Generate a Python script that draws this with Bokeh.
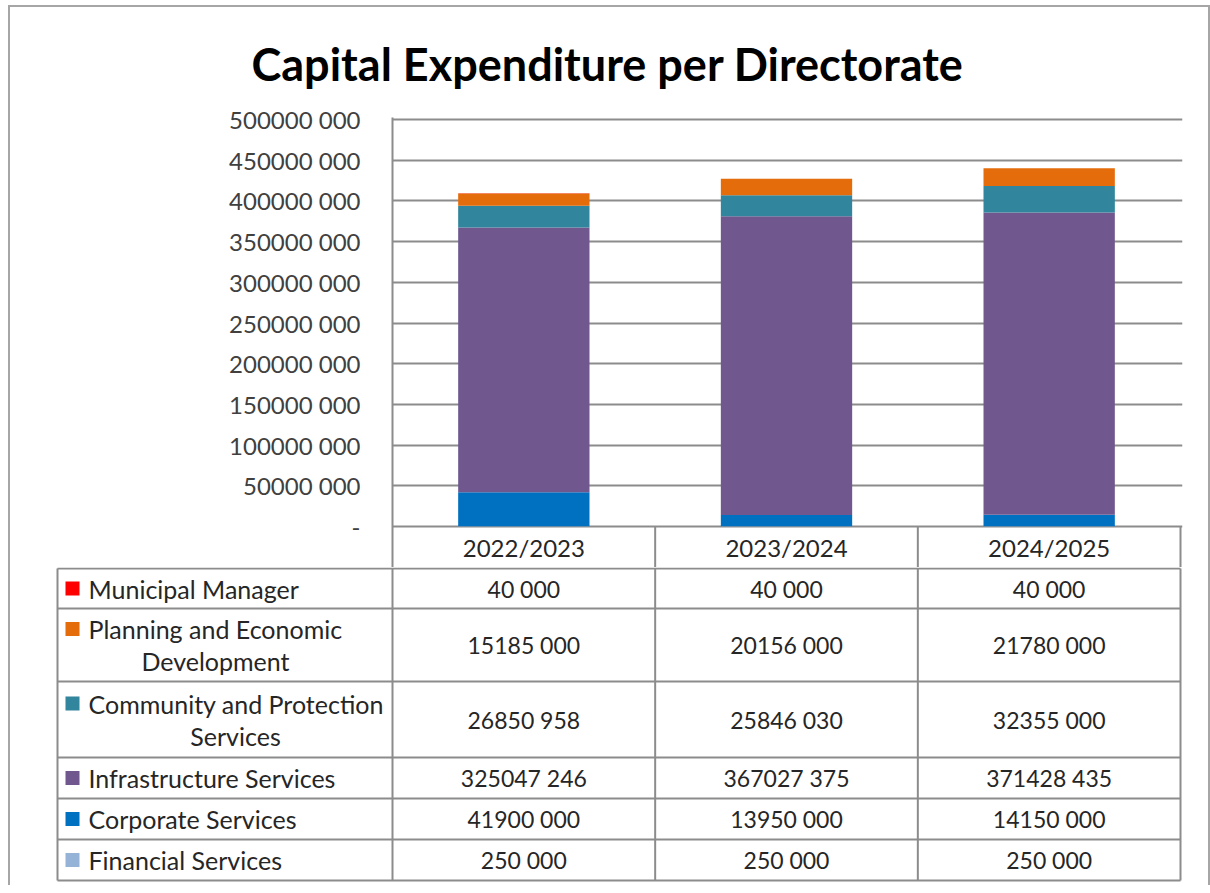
from bokeh.plotting import figure
from bokeh.models import ColumnDataSource, Range1d, FixedTicker
from bokeh.layouts import column
from bokeh.embed import file_html
from bokeh.resources import INLINE
from bokeh.core.properties import value

# ---------------- data ----------------
chart_title = "Capital Expenditure per Directorate"
years = ["2022/2023", "2023/2024", "2024/2025"]
directorates = [
    "Municipal Manager",
    "Planning and Economic Development",
    "Community and Protection Services",
    "Infrastructure Services",
    "Corporate Services",
    "Financial Services",
]
municipal_manager = [40000, 40000, 40000]
planning_economic = [15185000, 20156000, 21780000]
community_protection = [26850958, 25846030, 32355000]
infrastructure = [325047246, 367027375, 371428435]
corporate = [41900000, 13950000, 14150000]
financial = [250000, 250000, 250000]
series_colors = ["#FF0000", "#E46C0A", "#31859C", "#70588F", "#0070C0", "#95B3D7"]
y_ticks = [0, 50000000, 100000000, 150000000, 200000000, 250000000,
           300000000, 350000000, 400000000, 450000000, 500000000]
y_tick_labels = ["-", "50000 000", "100000 000", "150000 000", "200000 000",
                 "250000 000", "300000 000", "350000 000", "400000 000",
                 "450000 000", "500000 000"]

series_values = [municipal_manager, planning_economic, community_protection,
                 infrastructure, corporate, financial]


def fmt(v):
    v = int(round(v))
    if v >= 1000:
        return f"{v // 1000} {v % 1000:03d}"
    return str(v)


# ---------------- layout ----------------
FONT = "Lato"
TEXT = "#262626"
GRID = "#8C8C8C"
CANVAS_LEFT, CANVAS_RIGHT = 10, 1208
TOP_Y0 = 7
FRAME_TOP = 117
Y500 = 119
ZERO_Y = 526
HEADER_BOTTOM = 567
FRAME_LEFT = 392
TABLE_RIGHT = 1180
FRAME_RIGHT = 1182
TABLE_LEFT = 57
TITLE_LEFT = 251

ymax = y_ticks[-1]
px_per_val = (ZERO_Y - Y500) / ymax
y_start = -(HEADER_BOTTOM - ZERO_Y) / px_per_val
y_end = ymax + (Y500 - FRAME_TOP) / px_per_val
ncat = len(years)
px_per_cat = (TABLE_RIGHT - FRAME_LEFT) / ncat
x_end = ncat + (FRAME_RIGHT - TABLE_RIGHT) / px_per_cat

p = figure(width=CANVAS_RIGHT - CANVAS_LEFT, height=HEADER_BOTTOM - TOP_Y0,
           x_range=Range1d(0, x_end), y_range=Range1d(y_start, y_end),
           min_border_left=FRAME_LEFT - CANVAS_LEFT,
           min_border_right=CANVAS_RIGHT - FRAME_RIGHT,
           min_border_top=FRAME_TOP - TOP_Y0, min_border_bottom=0,
           output_backend="svg", toolbar_location=None, title=chart_title)
p.frame_align = False
p.title.text_font = FONT
p.title.text_font_size = "45px"
p.title.text_font_style = "bold"
p.title.text_color = "#000000"
p.title.align = "left"
p.title.offset = TITLE_LEFT - FRAME_LEFT
p.title.standoff = 53
p.outline_line_color = None
p.background_fill_color = "white"
p.border_fill_color = "white"
p.xaxis.visible = False
p.xgrid.visible = False

p.yaxis.ticker = FixedTicker(ticks=y_ticks)
p.yaxis.major_label_overrides = {t: l for t, l in zip(y_ticks, y_tick_labels)}
p.yaxis.major_label_text_font = FONT
p.yaxis.major_label_text_font_size = "24px"
p.yaxis.major_label_text_color = "#404040"
p.yaxis.major_label_standoff = 32
p.yaxis.major_tick_in = 0
p.yaxis.major_tick_out = 0
p.yaxis.minor_tick_in = 0
p.yaxis.minor_tick_out = 0
p.yaxis.axis_line_color = GRID
p.yaxis.axis_line_width = 2
p.ygrid.grid_line_color = GRID
p.ygrid.grid_line_width = 2

xs = [i + 0.5 for i in range(ncat)]
keys = ["s%d" % i for i in range(len(series_values))]
data = {"x": xs}
for k, vals in zip(keys, series_values):
    data[k] = vals
src = ColumnDataSource(data)
# stack bottom (Financial) to top (Municipal Manager)
p.vbar_stack(stackers=keys[::-1], x="x", width=0.5, source=src,
             fill_color=series_colors[::-1], line_color=None)

# header row (category labels) under the zero line
header_y = -((HEADER_BOTTOM - ZERO_Y) / 2) / px_per_val
p.text(x=xs, y=[header_y] * ncat, text=years, text_align="center",
       text_baseline="middle", text_font=value(FONT), text_font_size="24px",
       text_color=TEXT)
seps = list(range(1, ncat + 1))
p.segment(x0=seps, y0=[0] * len(seps), x1=seps, y1=[y_start] * len(seps),
          line_color=GRID, line_width=2)

# ---------------- table ----------------
TABLE_TOP_LINE = 568
TABLE_H = 318
t = figure(width=CANVAS_RIGHT - CANVAS_LEFT, height=TABLE_H,
           x_range=Range1d(CANVAS_LEFT, CANVAS_RIGHT),
           y_range=Range1d(HEADER_BOTTOM + TABLE_H, HEADER_BOTTOM),
           min_border=0, output_backend="svg", toolbar_location=None)
t.frame_align = False
t.axis.visible = False
t.grid.visible = False
t.outline_line_color = None
t.background_fill_color = "white"
t.border_fill_color = "white"

row_heights = [40, 73, 76, 41, 41, 41]
bounds = [TABLE_TOP_LINE]
for h in row_heights:
    bounds.append(bounds[-1] + h)
col_x = [TABLE_LEFT] + [FRAME_LEFT + i * px_per_cat for i in range(ncat + 1)]

t.segment(x0=[TABLE_LEFT] * len(bounds), y0=bounds,
          x1=[TABLE_RIGHT] * len(bounds), y1=bounds,
          line_color=GRID, line_width=2)
t.segment(x0=col_x, y0=[bounds[0]] * len(col_x), x1=col_x,
          y1=[bounds[-1]] * len(col_x), line_color=GRID, line_width=2)

LABEL_X = 88
SQUARE_X = 72
line2_center = {1: 215, 2: 235}
row_mid = [(a + b) / 2 for a, b in zip(bounds[:-1], bounds[1:])]

lab_x, lab_y, lab_t, lab_a = [], [], [], []
sq_y = []
for i, name in enumerate(directorates):
    if i in line2_center:
        l1, l2 = name.rsplit(" ", 1)
        y1 = row_mid[i] - 16
        lab_x += [LABEL_X, line2_center[i]]
        lab_y += [y1, row_mid[i] + 16]
        lab_t += [l1, l2]
        lab_a += ["left", "center"]
        sq_y.append(y1)
    else:
        lab_x.append(LABEL_X)
        lab_y.append(row_mid[i])
        lab_t.append(name)
        lab_a.append("left")
        sq_y.append(row_mid[i])

t.text(x=lab_x, y=lab_y, text=lab_t, text_align=lab_a, text_baseline="middle",
       text_font=value(FONT), text_font_size="25px", text_color=TEXT)
t.scatter(x=[SQUARE_X] * len(directorates), y=sq_y, marker="square", size=14,
          fill_color=series_colors, line_color=None)

val_x, val_y, val_t = [], [], []
for i, vals in enumerate(series_values):
    for j, v in enumerate(vals):
        val_x.append(FRAME_LEFT + (j + 0.5) * px_per_cat)
        val_y.append(row_mid[i])
        val_t.append(fmt(v))
t.text(x=val_x, y=val_y, text=val_t, text_align="center", text_baseline="middle",
       text_font=value(FONT), text_font_size="23px", text_color=TEXT)

layout = column(p, t, spacing=0,
                styles={"border-left": "2px solid #A6A6A6",
                        "border-right": "2px solid #A6A6A6",
                        "border-top": "2px solid #A6A6A6",
                        "position": "absolute", "left": "8px", "top": "5px"})

with open("out.html", "w") as f:
    f.write(file_html(layout, INLINE))
